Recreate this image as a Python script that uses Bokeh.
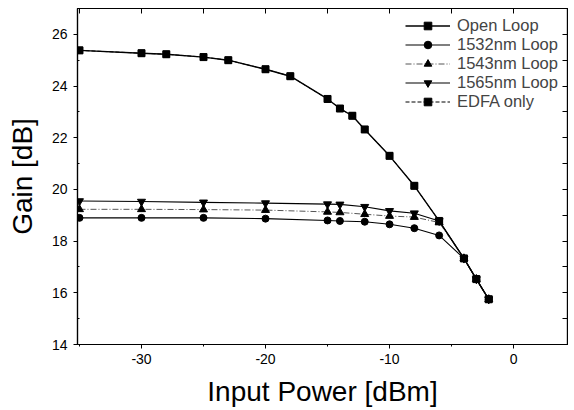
from bokeh.plotting import figure
from bokeh.models import LinearAxis, FixedTicker, Range1d, CustomJSTickFormatter
from bokeh.embed import file_html
from bokeh.resources import INLINE

# Data
x_open = [-35, -30, -28, -25, -23, -20, -18, -15, -14, -13, -12, -10, -8, -6, -4, -3, -2]
g_open = [25.38, 25.27, 25.23, 25.12, 25.0, 24.65, 24.38, 23.5, 23.13, 22.85, 22.32, 21.3, 20.14, 18.78, 17.33, 16.53, 15.75]
g_edfa = [25.38, 25.27, 25.23, 25.12, 25.0, 24.65, 24.38, 23.5, 23.13, 22.85, 22.32, 21.3, 20.14, 18.78, 17.33, 16.53, 15.75]

x_loop = [-35, -30, -25, -20, -15, -14, -12, -10, -8, -6, -4, -3, -2]
g_1532 = [18.9, 18.9, 18.9, 18.87, 18.8, 18.78, 18.75, 18.65, 18.5, 18.22, 17.33, 16.53, 15.75]
g_1543 = [19.23, 19.23, 19.22, 19.2, 19.13, 19.11, 19.04, 18.97, 18.93, 18.72, 17.33, 16.53, 15.75]
g_1565 = [19.55, 19.53, 19.5, 19.47, 19.43, 19.42, 19.33, 19.17, 19.08, 18.78, 17.33, 16.53, 15.75]

x_major = [-30, -20, -10, 0]
x_minor = [-35, -25, -15, -5]
x_labels = {-30: "-30", -20: "-20", -10: "-10", 0: "0"}
x_top = [-35, -30, -25, -20, -15, -10, -5, 0]
y_major = [14, 16, 18, 20, 22, 24, 26]
y_minor = [15, 17, 19, 21, 23, 25]
y_right = list(range(14, 28))

FONT = "Liberation Sans"

p = figure(width=568, height=409,
           x_range=Range1d(-35.16, 4.35), y_range=Range1d(14, 27.0),
           output_backend="svg", toolbar_location=None,
           min_border_left=77, min_border_right=1, min_border_top=8, min_border_bottom=59)
p.grid.visible = False
p.outline_line_color = "black"
p.outline_line_width = 1.2

# bottom axis
xa = p.xaxis[0]
xa.ticker = FixedTicker(ticks=x_major, minor_ticks=x_minor)
xa.major_label_overrides = x_labels
xa.axis_label = "Input Power [dBm]"
xa.axis_label_text_font = FONT
xa.axis_label_text_font_size = "28px"
xa.axis_label_text_font_style = "normal"
xa.axis_label_text_color = "black"
xa.axis_label_standoff = 9
xa.major_label_text_font = FONT
xa.major_label_text_font_size = "14px"
xa.major_label_text_color = "black"
xa.major_label_standoff = 5
xa.major_tick_out = 4
xa.major_tick_in = 0
xa.minor_tick_out = 2
xa.minor_tick_in = 0
xa.axis_line_width = 1.2

# left axis
ya = p.yaxis[0]
ya.ticker = FixedTicker(ticks=y_major, minor_ticks=y_minor)
ya.axis_label = "Gain [dB]"
ya.axis_label_text_font = FONT
ya.axis_label_text_font_size = "28px"
ya.axis_label_text_font_style = "normal"
ya.axis_label_text_color = "black"
ya.axis_label_standoff = 11
ya.major_label_text_font = FONT
ya.major_label_text_font_size = "14px"
ya.major_label_text_color = "black"
ya.major_label_standoff = 6
ya.major_tick_out = 4
ya.major_tick_in = 0
ya.minor_tick_out = 0
ya.minor_tick_in = 2
ya.axis_line_width = 1.2

# top and right axes (ticks only, inward)
blank = CustomJSTickFormatter(code="return ''")
top = LinearAxis(ticker=FixedTicker(ticks=x_top), formatter=blank, major_tick_in=5, major_tick_out=0,
                 minor_tick_in=0, minor_tick_out=0, major_label_standoff=0, axis_line_width=1.2)
right = LinearAxis(ticker=FixedTicker(ticks=y_right), formatter=blank, major_tick_in=5, major_tick_out=0,
                   minor_tick_in=0, minor_tick_out=0, major_label_standoff=0, axis_line_width=1.2)
p.add_layout(top, "above")
p.add_layout(right, "right")

# series
p.line(x_open, g_open, line_color="black", line_width=1.4, legend_label="Open Loop")
p.scatter(x_open, g_open, marker="square", size=7, color="black", legend_label="Open Loop")

p.line(x_loop, g_1532, line_color="black", line_width=1.1, legend_label="1532nm Loop")
p.scatter(x_loop, g_1532, marker="circle", size=7, color="black", legend_label="1532nm Loop")

p.line(x_loop, g_1543, line_color="#555555", line_width=1.0, line_dash="6 2 1 2", legend_label="1543nm Loop")
p.scatter(x_loop, g_1543, marker="triangle", size=8, color="black", legend_label="1543nm Loop")

p.line(x_loop, g_1565, line_color="black", line_width=1.1, legend_label="1565nm Loop")
p.scatter(x_loop, g_1565, marker="inverted_triangle", size=8, color="black", legend_label="1565nm Loop")

p.line(x_open, g_edfa, line_color="black", line_width=1.0, line_dash="4 2", legend_label="EDFA only")
p.scatter(x_open, g_edfa, marker="square", size=6, color="black", legend_label="EDFA only")

lg = p.legend[0]
lg.location = (328, 233)
lg.border_line_color = None
lg.background_fill_alpha = 0
lg.padding = 0
lg.margin = 0
lg.spacing = 0
lg.label_height = 19
lg.glyph_height = 19
lg.glyph_width = 45
lg.label_standoff = 7
lg.label_text_font = FONT
lg.label_text_font_size = "16.5px"

open("out.html", "w").write(file_html(p, INLINE))
